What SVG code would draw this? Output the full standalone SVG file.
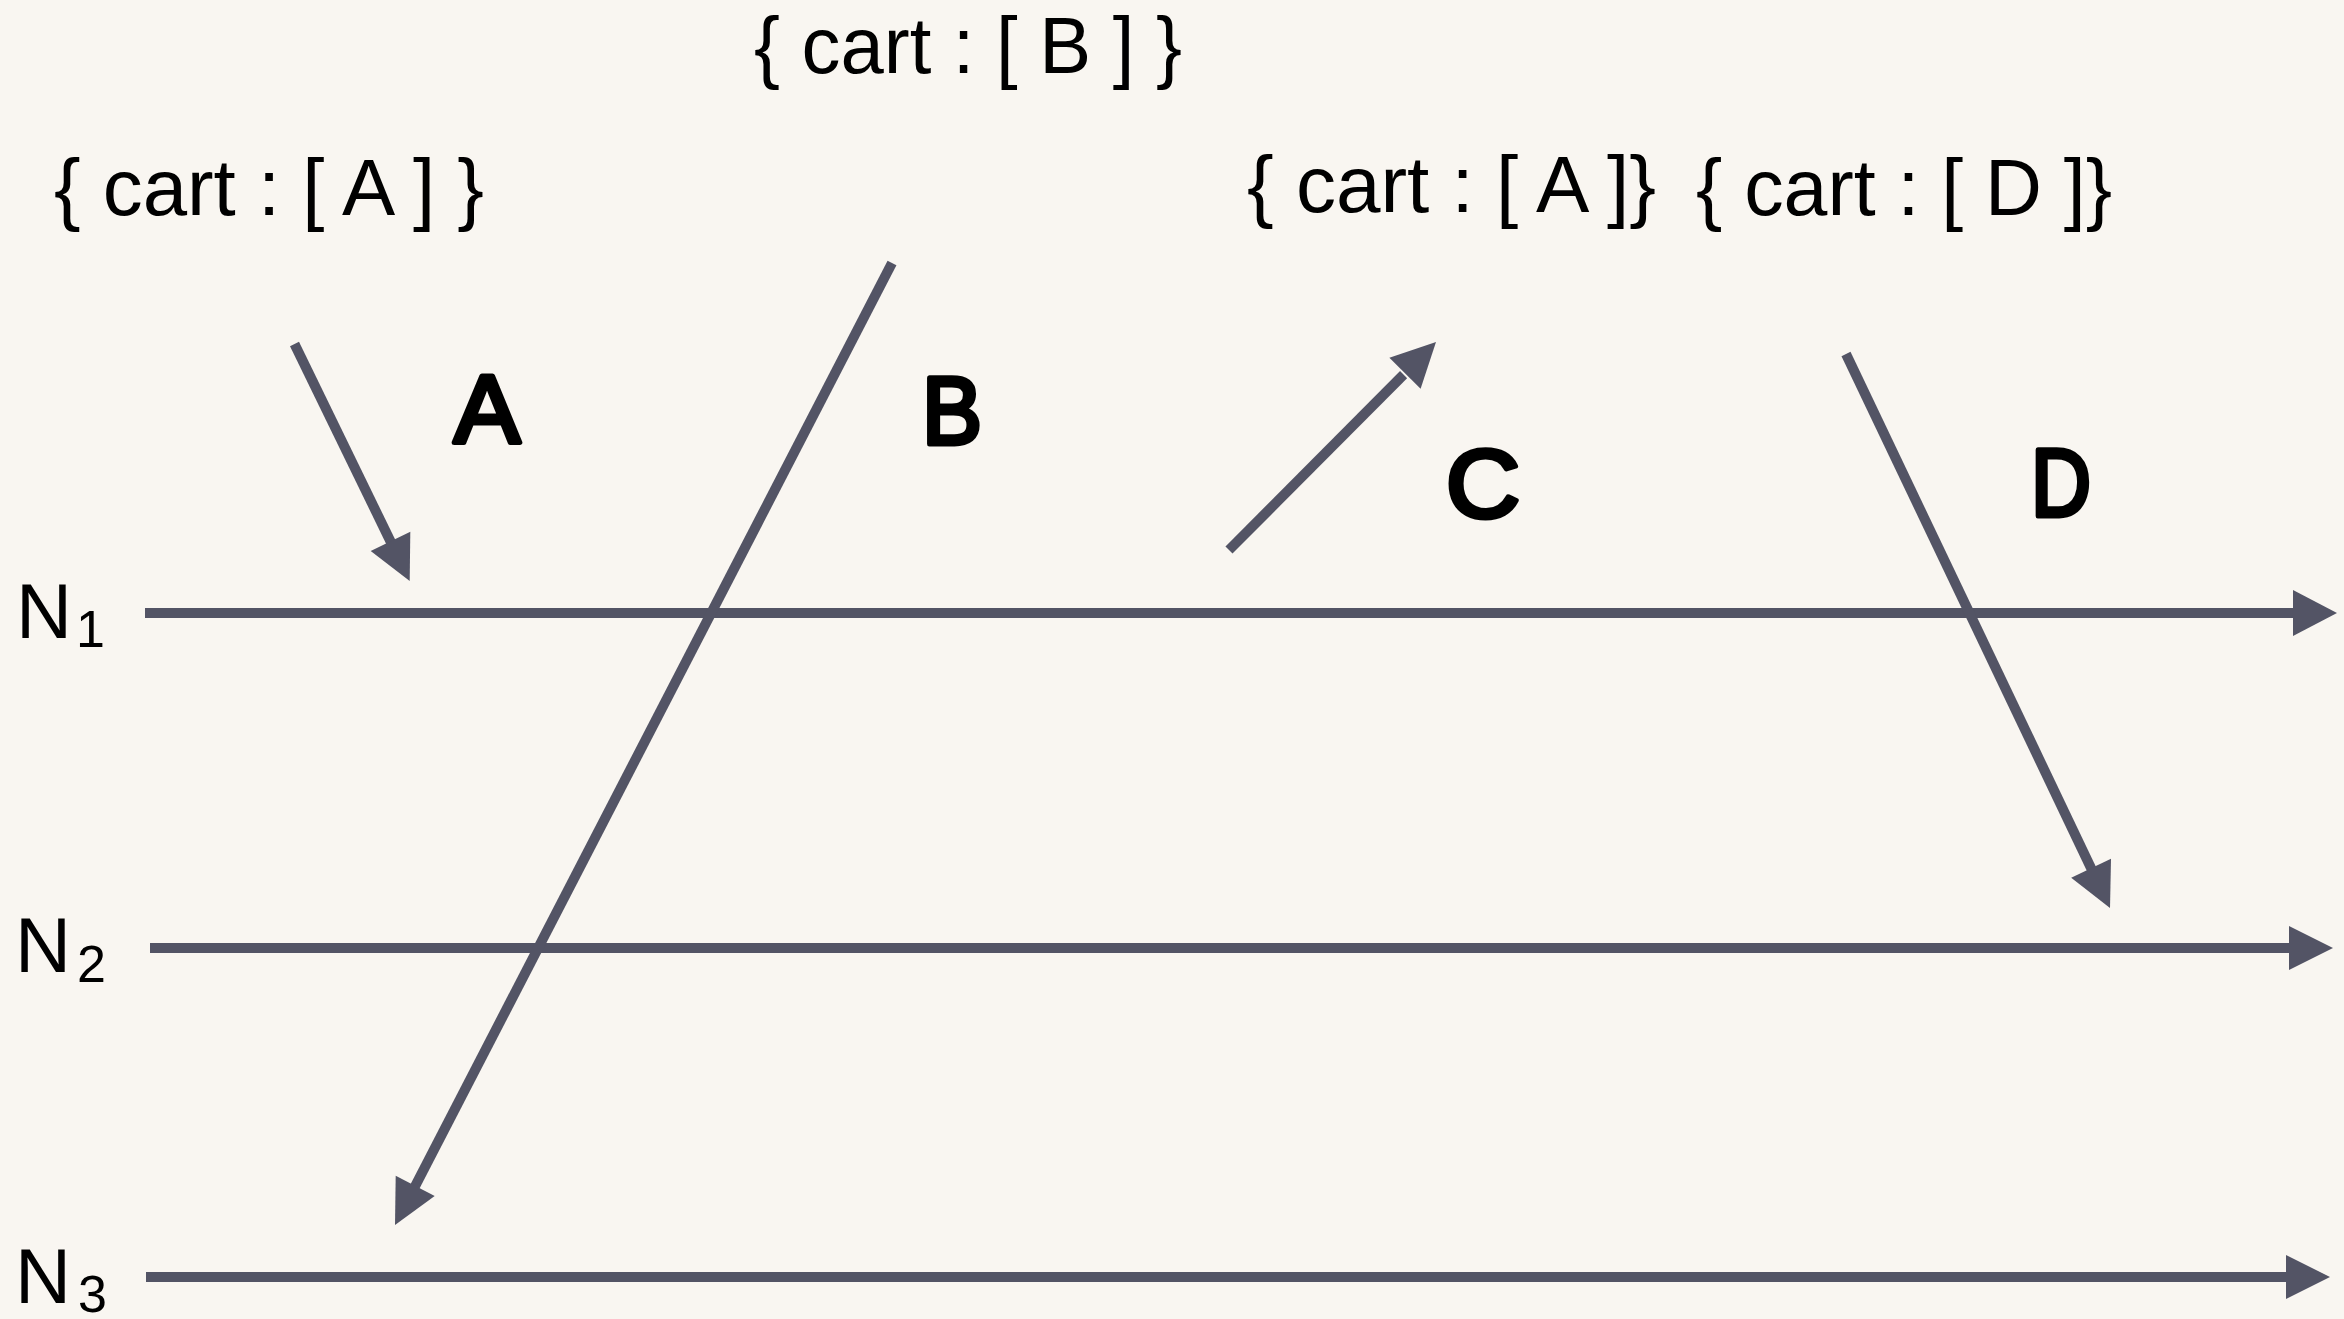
<svg xmlns="http://www.w3.org/2000/svg" width="2344" height="1319" viewBox="0 0 2344 1319">
<style>
.bg{fill:#F9F6F1}
.ln{stroke:#535465;stroke-width:10;fill:none}
.hd{fill:#535465}
.lbl{font-family:"Liberation Sans",Arial,sans-serif;font-size:80px;fill:#000}
.nd{font-family:"Liberation Sans",Arial,sans-serif;font-size:78px;fill:#000}
.sub{font-family:"Liberation Sans",Arial,sans-serif;font-size:52px;fill:#000}
.hand{font-family:"Liberation Sans",Arial,sans-serif;font-size:96px;fill:#000;stroke:#000;stroke-width:5;stroke-linejoin:round}
</style>
<rect class="bg" x="0" y="0" width="2344" height="1319"/>
<g id="node-N1">
<text class="nd" x="16" y="638" textLength="56" lengthAdjust="spacingAndGlyphs">N</text>
<text class="sub" x="76" y="647">1</text>
</g>
<g id="node-N2">
<text class="nd" x="15" y="972" textLength="56" lengthAdjust="spacingAndGlyphs">N</text>
<text class="sub" x="77" y="982">2</text>
</g>
<g id="node-N3">
<text class="nd" x="15" y="1303" textLength="56" lengthAdjust="spacingAndGlyphs">N</text>
<text class="sub" x="78" y="1312">3</text>
</g>
<g id="labels">
<text class="lbl" x="54" y="215" textLength="430" lengthAdjust="spacingAndGlyphs">{ cart : [ A ] }</text>
<text class="lbl" x="754" y="73" textLength="428" lengthAdjust="spacingAndGlyphs">{ cart : [ B ] }</text>
<text class="lbl" x="1247" y="212" textLength="409" lengthAdjust="spacingAndGlyphs">{ cart : [ A ]}</text>
<text class="lbl" x="1696" y="215" textLength="416" lengthAdjust="spacingAndGlyphs">{ cart : [ D ]}</text>
<text class="hand" x="454" y="442" textLength="66" lengthAdjust="spacingAndGlyphs">A</text>
<text class="hand" x="922" y="444" textLength="60" lengthAdjust="spacingAndGlyphs">B</text>
<text class="hand" x="1446" y="517" textLength="74" lengthAdjust="spacingAndGlyphs">C</text>
<text class="hand" x="2031" y="516" textLength="60" lengthAdjust="spacingAndGlyphs">D</text>
</g>
<g id="connectors">
<line class="ln" x1="145" y1="613" x2="2295" y2="613"/>
<polygon class="hd" points="2293,590 2337,613 2293,636"/>
<line class="ln" x1="150" y1="948" x2="2291" y2="948"/>
<polygon class="hd" points="2289,926 2333,948 2289,970"/>
<line class="ln" x1="146" y1="1277" x2="2288" y2="1277"/>
<polygon class="hd" points="2286,1255 2330,1277 2286,1299"/>
<line class="ln" x1="294.5" y1="344" x2="391.4" y2="543.2"/>
<polygon class="hd" points="370.7,551 409.7,581 410.3,531.8"/>
<line class="ln" x1="892" y1="263" x2="414.3" y2="1187.7"/>
<polygon class="hd" points="395.7,1175.8 395,1225 434.7,1196"/>
<line class="ln" x1="1229" y1="550" x2="1403.6" y2="374.6"/>
<polygon class="hd" points="1420.6,388.7 1436,342 1389.4,357.7"/>
<line class="ln" x1="1846" y1="354" x2="2092" y2="870.1"/>
<polygon class="hd" points="2071.2,877.8 2110,908 2111,858.8"/>
</g>
</svg>
